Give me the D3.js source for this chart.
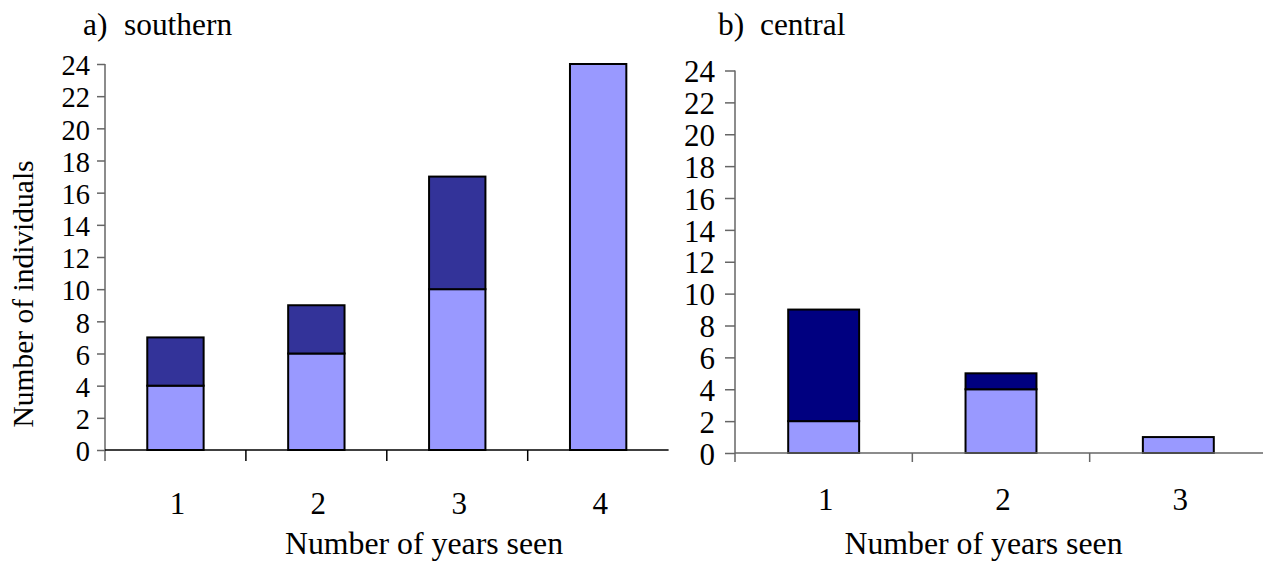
<!DOCTYPE html>
<html>
<head>
<meta charset="utf-8">
<script src="https://cdn.jsdelivr.net/npm/d3@7"></script>
<style>
  html, body { margin: 0; padding: 0; background: #fff; }
  svg { display: block; }
  text { font-family: "Liberation Serif", "Times New Roman", serif; fill: #000; }
</style>
</head>
<body>
<svg id="chart" width="1263" height="563"></svg>
<script>
// ---- data ----
const southernCategories = ["1", "2", "3", "4"];
const southernLight = [4, 6, 10, 24];
const southernDark = [3, 3, 7, 0];

const centralCategories = ["1", "2", "3"];
const centralLight = [2, 4, 1];
const centralDark = [7, 1, 0];

const yTickValues = [0, 2, 4, 6, 8, 10, 12, 14, 16, 18, 20, 22, 24];
const panelTitles = ["a)", "southern", "b)", "central"];
const xAxisTitle = "Number of years seen";
const yAxisTitle = "Number of individuals";

const lightColor = "#9999FF";
const southernDarkColor = "#333399";
const centralDarkColor = "#000080";

const svg = d3.select("#chart");

function panel(opts) {
  const g = svg.append("g");
  const x = d3.scaleBand().domain(opts.cats).range([opts.x0, opts.x1])
    .paddingInner(0.6).paddingOuter(0.3);
  const y = d3.scaleLinear().domain([0, 24]).range([opts.y0, opts.y24]);
  const step = x.step();

  // bars
  opts.cats.forEach((c, i) => {
    const l = opts.light[i], d = opts.dark[i];
    g.append("rect")
      .attr("x", x(c)).attr("width", x.bandwidth())
      .attr("y", y(l)).attr("height", y(0) - y(l))
      .attr("fill", lightColor).attr("stroke", "#000").attr("stroke-width", opts.barStroke);
    if (d > 0) {
      g.append("rect")
        .attr("x", x(c)).attr("width", x.bandwidth())
        .attr("y", y(l + d)).attr("height", y(l) - y(l + d))
        .attr("fill", opts.darkColor).attr("stroke", "#000").attr("stroke-width", opts.barStroke);
    }
  });

  // y axis
  const yAxis = d3.axisLeft(y).tickValues(yTickValues).tickSize(opts.yTickLen).tickPadding(opts.yPad).tickFormat(d3.format("d"));
  const ya = g.append("g").attr("transform", `translate(${opts.x0},0)`).call(yAxis);
  ya.select(".domain").remove();
  ya.selectAll(".tick line").attr("stroke", opts.yAxisColor).attr("stroke-width", 1.5);
  ya.selectAll(".tick text")
    .attr("font-size", opts.yFont)
    .attr("font-family", "Liberation Serif")
    .attr("dy", "0.36em")
    .attr("fill", "#000");
  if (opts.condense) {
    ya.selectAll(".tick text")
      .attr("transform", `scale(${opts.condense},1)`)
      .attr("x", (-opts.yPad - opts.yTickLen) / opts.condense);
  }
  g.append("line")
    .attr("x1", opts.x0).attr("x2", opts.x0)
    .attr("y1", y(24)).attr("y2", y(0) + opts.xTickLen)
    .attr("stroke", opts.yAxisColor).attr("stroke-width", 1.5);

  // x axis line
  g.append("line")
    .attr("x1", opts.x0).attr("x2", opts.x1)
    .attr("y1", y(0)).attr("y2", y(0))
    .attr("stroke", opts.xAxisColor).attr("stroke-width", 1.5);
  // category boundary ticks
  opts.cats.slice(1).forEach(c => {
    const bx = x(c) - step * 0.3;
    g.append("line")
      .attr("x1", bx).attr("x2", bx)
      .attr("y1", y(0)).attr("y2", y(0) + opts.xTickLen)
      .attr("stroke", opts.xAxisColor).attr("stroke-width", 1.5);
  });
  // category labels
  opts.cats.forEach(c => {
    g.append("text")
      .attr("x", x(c) + x.bandwidth() / 2 + 2)
      .attr("y", opts.labelY)
      .attr("text-anchor", "middle")
      .attr("font-size", 31)
      .text(c);
  });
  // x title
  g.append("text")
    .attr("x", opts.xTitleX).attr("y", 554)
    .attr("text-anchor", "middle")
    .attr("font-size", 31.8)
    .text(xAxisTitle);
  // panel title
  g.append("text").attr("x", opts.tx1).attr("y", 35).attr("font-size", 31.4).text(opts.t1);
  g.append("text").attr("x", opts.tx2).attr("y", 35).attr("font-size", 31.4).text(opts.t2);
  return g;
}

panel({
  cats: southernCategories, light: southernLight, dark: southernDark,
  darkColor: southernDarkColor,
  x0: 105, x1: 668.6, y0: 450, y24: 64,
  barStroke: 2, yTickLen: 8, yPad: 7, xTickLen: 11, yFont: 30,
  yAxisColor: "#666", xAxisColor: "#000",
  labelY: 514, xTitleX: 424,
  t1: panelTitles[0], t2: panelTitles[1], tx1: 83, tx2: 124,
  condense: 0.95
});

panel({
  cats: centralCategories, light: centralLight, dark: centralDark,
  darkColor: centralDarkColor,
  x0: 735, x1: 1267, y0: 453, y24: 70.5,
  barStroke: 2, yTickLen: 10, yPad: 10, xTickLen: 9, yFont: 31,
  yAxisColor: "#666", xAxisColor: "#666",
  labelY: 510, xTitleX: 983.5,
  t1: panelTitles[2], t2: panelTitles[3], tx1: 718, tx2: 760,
  condense: null
});

// y axis title (left panel)
svg.append("text")
  .attr("transform", "translate(33,294) rotate(-90)")
  .attr("text-anchor", "middle")
  .attr("font-size", 29.5)
  .text(yAxisTitle);
</script>
</body>
</html>
